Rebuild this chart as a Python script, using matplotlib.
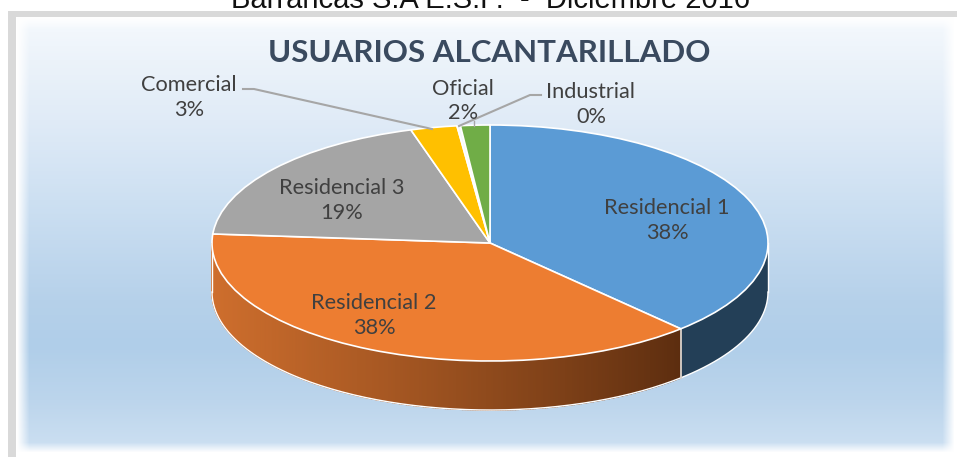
import numpy as np
import matplotlib
matplotlib.use("Agg")
import matplotlib.pyplot as plt
from matplotlib.patches import Polygon, Rectangle

W, H = 957, 457

categories = ["Residencial 1", "Residencial 2", "Residencial 3", "Comercial", "Industrial", "Oficial"]
values = [38.0, 38.3, 19.2, 2.7, 0.2, 1.7]
pct_labels = ["38%", "38%", "19%", "3%", "0%", "2%"]
colors = ["#5b9bd5", "#ed7d31", "#a5a5a5", "#ffc000", "#f4f8fc", "#70ad47"]

# pie geometry in image pixels
cx, cy = 490, 243
rx, ry = 278, 118
depth = 49


def X(px):
    return (px - cx) / rx


def Y(py):
    return (cy - py) / ry


fig = plt.figure(figsize=(W / 100, H / 100), dpi=100)
ax = fig.add_axes([0, 0, 1, 1])

wedges, _ = ax.pie(values, colors=colors, startangle=90, counterclock=False,
                   wedgeprops=dict(edgecolor="white", linewidth=1.2))
for w in wedges:
    w.set_zorder(5)

# background gradient
ys = np.array([17, 60, 120, 200, 300, 345, 400, 450])
cols = np.array([[245, 249, 253], [236, 243, 250], [224, 235, 247], [205, 224, 242],
                 [182, 209, 234], [176, 206, 233], [188, 213, 236], [205, 224, 242]]) / 255
yy = np.arange(H)
xx = np.arange(W)
img = np.stack([np.interp(yy, ys, cols[:, i]) for i in range(3)], axis=1)[:, None, :]
img = np.repeat(img, W, axis=1)
# soft white edge of the panel
edge_x = np.clip((xx - 17) / 12, 0, 1) * np.clip((954 - xx) / 12, 0, 1)
edge_y = np.clip((yy - 17) / 12, 0, 1) * np.clip((452 - yy) / 10, 0, 1)
mask = (edge_y[:, None] * edge_x[None, :])[:, :, None]
img = img * mask + (1 - mask)
ax.imshow(img, extent=(X(0), X(W), Y(H), Y(0)), aspect="auto", zorder=0)

# grey frame, top and left only
ax.add_patch(Rectangle((X(8), Y(H)), 8 / rx, (H - 11) / ry, facecolor="#d9d9d9", edgecolor="none", zorder=1))
ax.add_patch(Rectangle((X(8), Y(17)), (W - 8) / rx, 6 / ry, facecolor="#d9d9d9", edgecolor="none", zorder=1))

# side wall of the pie, only the front part shows
d = depth / ry
ends = 90 - np.cumsum(values) * 360 / sum(values)
bx, by = np.cos(np.radians(ends[0])), np.sin(np.radians(ends[0]))

# blue part is flat
th = np.radians(np.linspace(0, ends[0], 80))
top = np.c_[np.cos(th), np.sin(th)]
ax.add_patch(Polygon(np.r_[top, (top - [0, d])[::-1]], facecolor="#233f57", edgecolor="none", zorder=3))

# orange part darkens to the right
left = np.array([206, 110, 45])
right = np.array([92, 45, 15])
th = np.radians(np.linspace(ends[0], -180, 260))
for t0, t1 in zip(th[:-1], th[1:]):
    x0, x1 = np.cos(t0), np.cos(t1)
    pts = [(x0, np.sin(t0)), (x1, np.sin(t1)), (x1, np.sin(t1) - d), (x0, np.sin(t0) - d)]
    t = (bx - x0) / (bx + 1)
    c = (right + (left - right) * t ** 0.9) / 255
    ax.add_patch(Polygon(pts, facecolor=c, edgecolor=c, linewidth=1.0, zorder=3))

th = np.radians(np.linspace(0, -180, 200))
ax.plot(np.cos(th), np.sin(th) - d, color="white", lw=1.0, zorder=4)
ax.plot([1, 1], [0, -d], color="white", lw=1.0, zorder=4)
ax.plot([-1, -1], [0, -d], color="white", lw=1.0, zorder=4)
ax.plot([bx, bx], [by, by - d], color="#d8d2cc", lw=1.3, zorder=4)

# leader lines
line_c = "#a6a6a6"
ax.plot([X(243), X(254), X(432)], [Y(89), Y(89), Y(129)], color=line_c, lw=1.5, zorder=6)
ax.plot([X(459), X(530), X(541)], [Y(126), Y(95), Y(95)], color=line_c, lw=1.5, zorder=6)
ax.plot([X(474), X(474)], [Y(121), Y(126)], color=line_c, lw=1.0, zorder=6)

ax.set_xlim(X(0), X(W))
ax.set_ylim(Y(H), Y(0))
ax.set_aspect("auto")
ax.axis("off")

# text
lab = dict(family="Lato", fontsize=15.7, color="#404040", ha="center", va="center", zorder=7)
label_pos = [(667, 208, 233), (374, 303, 328), (342, 188, 213), (189, 85, 110), (591, 92, 117), (463, 89, 113)]
for name, pct, (x, y1, y2) in zip(categories, pct_labels, label_pos):
    ax.text(X(x), Y(y1), name, **lab)
    ax.text(X(x), Y(y2), pct, **lab)

ax.text(X(489), Y(53), "USUARIOS ALCANTARILLADO", family="Lato", fontsize=22.5, fontweight="bold",
        color="#3a4a5f", ha="center", va="center", zorder=7)
ax.text(X(491), Y(0), "Barrancas S.A E.S.P.  -  Diciembre 2016", family="Liberation Sans", fontsize=21,
        color="#111111", ha="center", va="center", zorder=7)

fig.savefig("out.png", dpi=100)
